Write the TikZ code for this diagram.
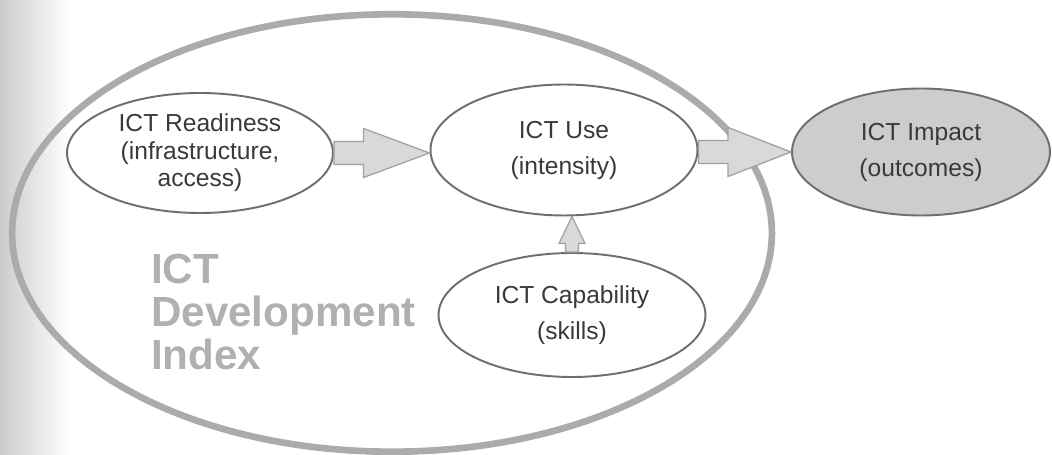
\documentclass[tikz,border=0pt]{standalone}
\usepackage{fontspec}
\setmainfont{Liberation Sans}
\usetikzlibrary{shapes.geometric,calc}

\definecolor{ringgray}{HTML}{ABABAB}
\definecolor{linegray}{HTML}{6E6E6E}
\definecolor{txtgray}{HTML}{3A3A3A}
\definecolor{arrfill}{HTML}{D9D9D9}
\definecolor{arrline}{HTML}{A0A0A0}
\definecolor{impfill}{HTML}{CDCDCD}
\definecolor{idxtext}{HTML}{B0B0B0}

\tikzset{
  bubble/.style={ellipse, draw=linegray, line width=1.1pt, fill=white, text=txtgray,
    align=center, inner sep=0pt, font=\fontsize{14}{20.5}\selectfont},
  ring/.style={ellipse, draw=ringgray, line width=3.8pt},
  blockarr/.style={draw=arrline, fill=arrfill, line width=0.7pt, line join=miter},
}

\begin{document}
\begin{tikzpicture}[x=0.02cm,y=-0.02cm]
  \useasboundingbox (0,0) rectangle (1052,455);
  \fill[left color=gray!40, right color=white] (0,0) rectangle (70,455);
  % outer ring
  \node[ring, minimum width=15.2cm, minimum height=8.75cm] (idx) at (392,233) {};
  \node[anchor=west, align=left, text=idxtext, font=\fontsize{24}{24.5}\selectfont\bfseries]
    (idxlabel) at (145,312) {ICT\\Development\\Index};
  % bubbles
  \node[bubble, minimum width=5.32cm, minimum height=2.4cm, font=\fontsize{14}{15.6}\selectfont]
    (read) at (200,153) {ICT Readiness\\(infrastructure,\\access)};
  \node[bubble, minimum width=5.34cm, minimum height=2.62cm] (use) at (564,150) {ICT Use\\(intensity)};
  \node[bubble, fill=impfill, minimum width=5.16cm, minimum height=2.54cm] (imp) at (921,152) {ICT Impact\\(outcomes)};
  \node[bubble, minimum width=5.34cm, minimum height=2.48cm] (cap) at (572,315) {ICT Capability\\(skills)};
  % block arrows
  \coordinate (t1) at (read.east -| use.west);
  \draw[blockarr] ($(read.east)+(0,-11.5)$) -- ($(t1)+(-66,-11.5)$) -- ($(t1)+(-66,-24.5)$) -- (t1)
    -- ($(t1)+(-66,24.5)$) -- ($(t1)+(-66,11.5)$) -- ($(read.east)+(0,11.5)$) -- cycle;
  \coordinate (s2) at (use.east |- imp.west);
  \draw[blockarr] ($(s2)+(0,-11.5)$) -- ($(imp.west)+(-63,-11.5)$) -- ($(imp.west)+(-63,-24.5)$) -- (imp.west)
    -- ($(imp.west)+(-63,24.5)$) -- ($(imp.west)+(-63,11.5)$) -- ($(s2)+(0,11.5)$) -- cycle;
  \coordinate (t3) at (cap.north |- use.south);
  \draw[blockarr] ($(cap.north)+(-6.5,0)$) -- ($(t3)+(-6.5,27)$) -- ($(t3)+(-13,27)$) -- (t3)
    -- ($(t3)+(13,27)$) -- ($(t3)+(6.5,27)$) -- ($(cap.north)+(6.5,0)$) -- cycle;
\end{tikzpicture}
\end{document}
